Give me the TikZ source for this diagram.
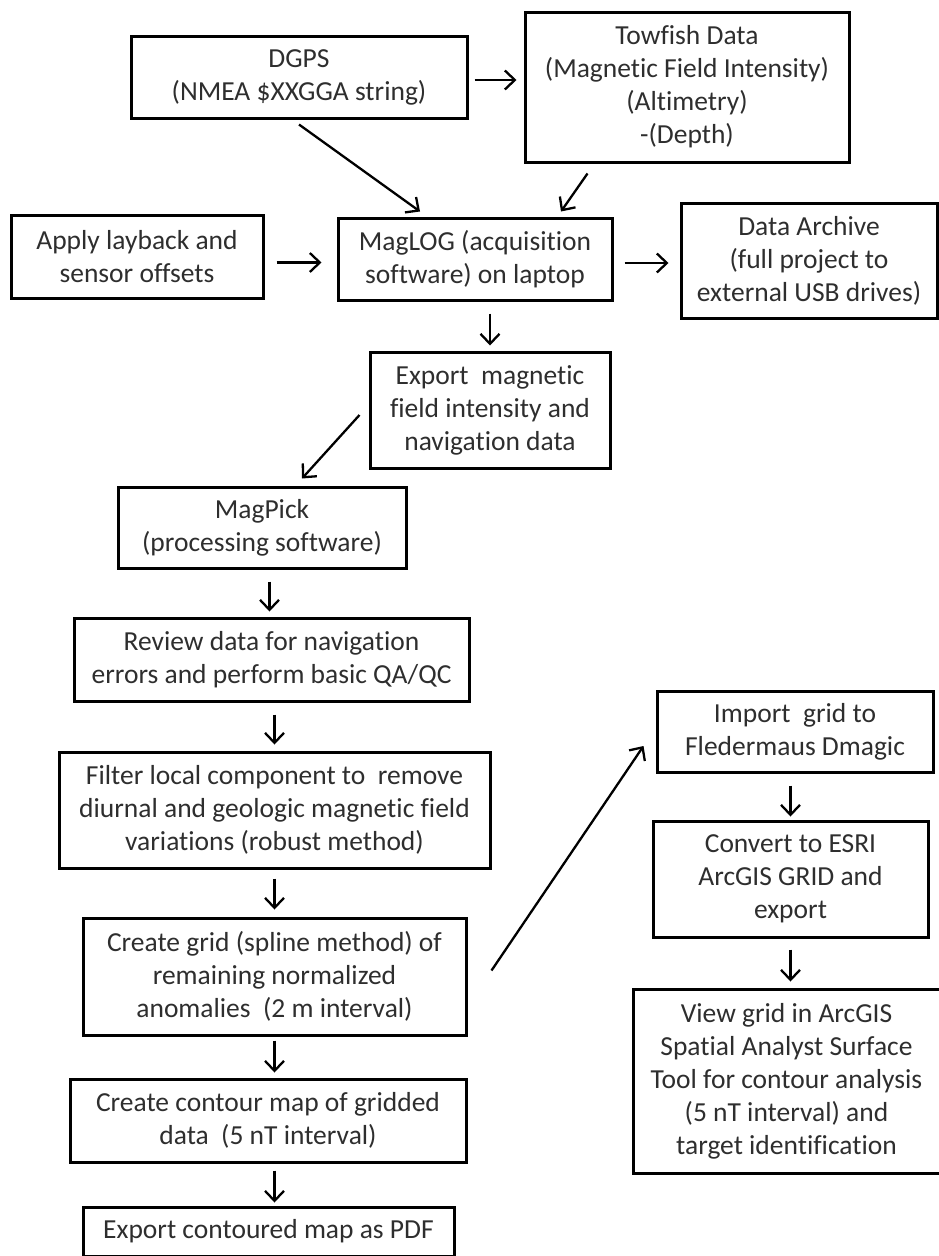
\documentclass[tikz,border=0pt]{standalone}
\usepackage{fontspec}
\setmainfont{Carlito}[Ligatures=NoCommon]
\usetikzlibrary{arrows.meta,calc}
\begin{document}
\begin{tikzpicture}[x=1pt,y=-1pt,
  box/.style={draw=black,line width=3pt,inner sep=0pt,align=center,
    text=black!82,font=\fontsize{27.5}{33}\selectfont},
  arr/.style={line width=2.3pt,-{Straight Barb[length=10pt,width=19pt]}}]
\useasboundingbox (0,0) rectangle (938,1256);
% nodes
\node[box,minimum width=336pt,minimum height=82pt] (dgps) at (299,77) {DGPS\\(NMEA \$XXGGA string)};
\node[box,minimum width=324pt,minimum height=150pt] (tow) at (687,87) {Towfish Data\\(Magnetic Field Intensity)\\(Altimetry)\\-(Depth)};
\node[box,minimum width=252pt,minimum height=83pt] (apply) at (137,256.5) {Apply layback and\\sensor offsets};
\node[box,minimum width=274pt,minimum height=82pt] (maglog) at (475,259) {MagLOG (acquisition\\software) on laptop};
\node[box,minimum width=256pt,minimum height=115pt] (arch) at (809,260.5) {Data Archive\\(full project to\\external USB drives)};
\node[box,minimum width=240pt,minimum height=116pt] (export) at (490,410) {Export~ magnetic\\field intensity and\\navigation data};
\node[box,minimum width=288pt,minimum height=81pt] (magpick) at (262,527.5) {MagPick\\(processing software)};
\node[box,minimum width=395pt,minimum height=83pt] (review) at (271.5,659.5) {Review data for navigation\\errors and perform basic QA/QC};
\node[box,minimum width=431pt,minimum height=116pt] (filter) at (274.5,810) {Filter local component to~ remove\\diurnal and geologic magnetic field\\variations (robust method)};
\node[box,minimum width=383pt,minimum height=117pt] (grid) at (274.5,976.5) {Create grid (spline method) of\\remaining normalized\\anomalies~ (2 m interval)};
\node[box,minimum width=396pt,minimum height=83pt] (contour) at (268,1120.5) {Create contour map of gridded\\data~ (5 nT interval)};
\node[box,minimum width=371pt,minimum height=49pt] (pdf) at (268.5,1231.5) {Export contoured map as PDF};
\node[box,minimum width=276pt,minimum height=81pt] (import) at (795,731.5) {Import~ grid to\\Fledermaus Dmagic};
\node[box,minimum width=275pt,minimum height=116pt] (convert) at (790.5,879) {Convert to ESRI\\ArcGIS GRID and\\export};
\node[box,minimum width=307pt,minimum height=184pt] (view) at (786.5,1081) {View grid in ArcGIS\\Spatial Analyst Surface\\Tool for contour analysis\\(5 nT interval) and\\target identification};
% connectors
\draw[arr,shorten <=6pt,shorten >=7pt] ([yshift=-3pt]dgps.east) -- ([yshift=-3pt]dgps.east -| tow.west);
\draw[arr] ($(dgps.south)+(0,5)$) -- ($(maglog.north)+(-55,-5)$);
\draw[arr] ($(tow.south west)+(64,10)$) -- ($(maglog.north)+(86,-5)$);
\draw[arr,shorten <=12pt,shorten >=15pt] ([yshift=-6pt]apply.east) -- ([yshift=-6pt]apply.east -| maglog.west);
\draw[arr,shorten <=11pt,shorten >=11pt] ([yshift=-4pt]maglog.east) -- ([yshift=-4pt]maglog.east -| arch.west);
\draw[arr,shorten <=12pt,shorten >=5pt] (export.north |- maglog.south) -- (export.north);
\draw[arr] ($(export.west)+(-9,5)$) -- ($(magpick.north)+(40,-7)$);
\draw[arr,shorten <=12pt,shorten >=5pt] ([xshift=-2pt]review.north |- magpick.south) -- ([xshift=-2pt]review.north);
\draw[arr,shorten <=12pt,shorten >=6pt] (filter.north |- review.south) -- (filter.north);
\draw[arr,shorten <=9pt,shorten >=7pt] (filter.south) -- (grid.north);
\draw[arr,shorten <=4pt,shorten >=5pt] (grid.south) -- (grid.south |- contour.north);
\draw[arr,shorten <=7pt,shorten >=3pt] (grid.south |- contour.south) -- (grid.south |- pdf.north);
\draw[arr] ($(grid.east)+(24,-6)$) -- ($(import.west)+(-12,14.5)$);
\draw[arr,shorten <=12pt,shorten >=3pt] (convert.north |- import.south) -- (convert.north);
\draw[arr,shorten <=11pt,shorten >=6pt] (convert.south) -- (convert.south |- view.north);
\end{tikzpicture}
\end{document}
